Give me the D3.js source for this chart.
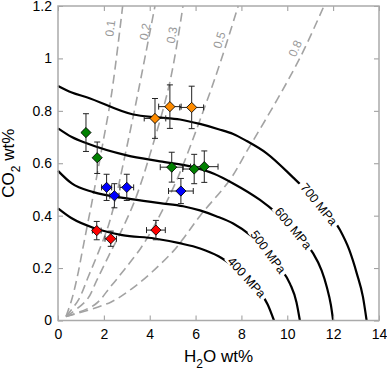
<!DOCTYPE html>
<html lang="en">
<head>
    <meta charset="UTF-8" />
    <title>H2O - CO2 saturation</title>
    <script src="https://d3js.org/d3.v7.min.js"></script>
    <style>
        body { margin: 0; background: #fff; }
        svg { display: block; font-family: 'Liberation Sans', Arial, sans-serif; }
        .tick text { font-size: 14px; fill: #000; }
        .tick line { stroke: #999; }
        .domain { display: none; }
    </style>
</head>
<body>
    <script>
        // tick values
        const xTicks = [0, 2, 4, 6, 8, 10, 12, 14];
        const yTicks = [0, 0.2, 0.4, 0.6, 0.8, 1, 1.2];

        // isobars (H2O wt%, CO2 wt%)
        const isobarNames = ['400 MPa', '500 MPa', '600 MPa', '700 MPa'];
        const isobar400 = [[0, 0.428], [0.6, 0.39], [1.6, 0.352], [2.8, 0.326], [4.2, 0.313], [5.3, 0.295], [6.2, 0.275], [7.0, 0.245], [7.6, 0.21], [8.23, 0.165], [8.8, 0.11], [9.15, 0.06], [9.42, 0]];
        const isobar500 = [[0, 0.571], [0.6, 0.523], [1.54, 0.49], [3.0, 0.466], [4.45, 0.448], [5.46, 0.436], [6.19, 0.42], [6.9, 0.398], [7.64, 0.37], [8.4, 0.325], [9.17, 0.262], [9.7, 0.2], [10.12, 0.14], [10.4, 0.07], [10.55, 0]];
        const isobar600 = [[0, 0.733], [0.6, 0.7], [1.25, 0.676], [3.0, 0.63], [4.45, 0.607], [5.9, 0.585], [6.8, 0.56], [7.64, 0.523], [8.81, 0.46], [9.6, 0.405], [10.26, 0.352], [10.8, 0.295], [11.13, 0.256], [11.5, 0.19], [11.72, 0.129], [11.9, 0.06], [12.0, 0]];
        const isobar700 = [[0, 0.895], [0.6, 0.87], [1.25, 0.852], [3.28, 0.786], [4.3, 0.775], [5.32, 0.767], [6.19, 0.75], [7.0, 0.73], [7.64, 0.712], [8.23, 0.685], [9.1, 0.638], [10.26, 0.545], [10.9, 0.49], [11.38, 0.444], [12.3, 0.345], [12.7, 0.27], [13.03, 0.18], [13.3, 0.09], [13.46, 0]];
        const isobarLabelX = [8.23, 9.17, 10.26, 11.38];

        // fluid XH2O isopleths
        const isoplethNames = ['0.1', '0.2', '0.3', '0.5', '0.8'];
        const pleth01 = [[0.35, 0.015], [0.6, 0.08], [0.85, 0.17], [1.05, 0.26], [1.25, 0.35], [1.47, 0.447], [1.9, 0.65], [2.34, 0.867], [2.82, 1.2]];
        const pleth02 = [[0.35, 0.015], [0.9, 0.08], [1.32, 0.167], [1.76, 0.26], [2.19, 0.36], [2.5, 0.46], [2.85, 0.6], [3.4, 0.83], [4.23, 1.2]];
        const pleth03 = [[0.35, 0.015], [1.25, 0.078], [1.7, 0.155], [2.2, 0.245], [2.78, 0.345], [3.36, 0.46], [4.0, 0.63], [4.88, 0.91], [5.45, 1.2]];
        const pleth05 = [[0.35, 0.015], [1.6, 0.06], [2.3, 0.13], [2.9, 0.195], [3.6, 0.275], [4.25, 0.37], [5.2, 0.54], [6.34, 0.8], [7.1, 0.99], [7.86, 1.2]];
        const pleth08 = [[0.35, 0.015], [2.3, 0.07], [3.2, 0.12], [4.1, 0.185], [5.0, 0.262], [5.4, 0.305], [6.2, 0.4], [7.5, 0.537], [8.23, 0.645], [9.54, 0.84], [10.6, 1.01], [11.6, 1.2]];
        const isoplethLabelPos = [[2.27, 1.115], [3.79, 1.102], [4.96, 1.089], [7.03, 1.07], [10.34, 1.038]];

        // samples: H2O, CO2 and their errors
        const orangeH2O = [4.23, 4.88, 5.83];
        const orangeCO2 = [0.771, 0.816, 0.813];
        const orangeH2OErr = [0.47, 0.49, 0.52];
        const orangeCO2Err = [0.076, 0.083, 0.081];

        const greenH2O = [1.22, 1.71, 4.96, 5.94, 6.38];
        const greenCO2 = [0.717, 0.621, 0.585, 0.578, 0.587];
        const greenH2OErr = [0.08, 0.08, 0.5, 0.5, 0.6];
        const greenCO2Err = [0.072, 0.06, 0.057, 0.056, 0.06];

        const blueH2O = [2.12, 2.46, 3.0, 5.36];
        const blueCO2 = [0.508, 0.476, 0.508, 0.494];
        const blueH2OErr = [0.22, 0.2, 0.3, 0.54];
        const blueCO2Err = [0.05, 0.046, 0.05, 0.048];

        const redH2O = [1.69, 2.3, 4.27];
        const redCO2 = [0.343, 0.312, 0.345];
        const redH2OErr = [0.19, 0.25, 0.41];
        const redCO2Err = [0.035, 0.029, 0.037];

        const width = 387, height = 371;
        const margin = { top: 6, right: 8, bottom: 50.5, left: 58 };

        const svg = d3.select('body').append('svg').attr('width', width).attr('height', height);

        const x = d3.scaleLinear().domain([0, 14]).range([margin.left, width - margin.right]);
        const y = d3.scaleLinear().domain([0, 1.2]).range([height - margin.bottom, margin.top]);

        const line = d3.line().x(d => x(d[0])).y(d => y(d[1]));

        // dashed isopleths
        const pleths = [pleth01, pleth02, pleth03, pleth05, pleth08];
        svg.append('g').selectAll('path')
            .data(pleths)
            .enter()
            .append('path')
            .attr('d', line.curve(d3.curveCatmullRom))
            .attr('fill', 'none')
            .attr('stroke', '#a3a3a3')
            .attr('stroke-width', 1.6)
            .attr('stroke-dasharray', '9,5');

        svg.append('g').selectAll('text')
            .data(isoplethNames)
            .enter()
            .append('text')
            .attr('transform', (d, i) => {
                const p = pleths[i];
                const a = p[p.length - 2], b = p[p.length - 1];
                const ang = Math.atan2(y(b[1]) - y(a[1]), x(b[0]) - x(a[0])) * 180 / Math.PI;
                const pos = isoplethLabelPos[i];
                return `translate(${x(pos[0])},${y(pos[1])}) rotate(${ang})`;
            })
            .attr('text-anchor', 'middle')
            .attr('dy', '0.35em')
            .attr('font-size', 12)
            .attr('fill', '#999')
            .text(d => d);

        // isobars
        const isobars = [isobar400, isobar500, isobar600, isobar700];
        svg.append('g').selectAll('path')
            .data(isobars)
            .enter()
            .append('path')
            .attr('d', line.curve(d3.curveMonotoneX))
            .attr('fill', 'none')
            .attr('stroke', '#000')
            .attr('stroke-width', 2.2);

        // inline labels on the isobars, turned along the segment that follows the label
        isobars.forEach((pts, i) => {
            const lx = isobarLabelX[i];
            let k = 0;
            while (k < pts.length - 2 && pts[k + 1][0] <= lx) k++;
            const a = pts[k], b = pts[k + 1];
            const t = (lx - a[0]) / (b[0] - a[0]);
            const ly = a[1] + t * (b[1] - a[1]);
            const ang = Math.atan2(y(b[1]) - y(a[1]), x(b[0]) - x(a[0])) * 180 / Math.PI;
            const g = svg.append('g').attr('transform', `translate(${x(lx)},${y(ly)}) rotate(${ang})`);
            const rect = g.append('rect').attr('fill', '#fff');
            const txt = g.append('text')
                .attr('text-anchor', 'middle')
                .attr('dy', '0.35em')
                .attr('font-size', 12.5)
                .text(isobarNames[i]);
            const w = txt.node().getComputedTextLength();
            rect.attr('x', -w / 2 - 3).attr('y', -5).attr('width', w + 6).attr('height', 10);
        });

        // samples
        const groups = [
            { color: '#ff8c00', h: orangeH2O, c: orangeCO2, he: orangeH2OErr, ce: orangeCO2Err },
            { color: '#008000', h: greenH2O, c: greenCO2, he: greenH2OErr, ce: greenCO2Err },
            { color: '#0000ff', h: blueH2O, c: blueCO2, he: blueH2OErr, ce: blueCO2Err },
            { color: '#ff0000', h: redH2O, c: redCO2, he: redH2OErr, ce: redCO2Err }
        ];
        const samples = [];
        groups.forEach(g => g.h.forEach((v, i) => samples.push({ h: v, c: g.c[i], he: g.he[i], ce: g.ce[i], color: g.color })));

        const cap = 3;
        const err = svg.append('g').attr('stroke', '#222').attr('stroke-width', 1).attr('fill', 'none');
        err.selectAll('path')
            .data(samples)
            .enter()
            .append('path')
            .attr('d', d => {
                const cx = x(d.h), cy = y(d.c);
                const x0 = x(d.h - d.he), x1 = x(d.h + d.he);
                const y0 = y(d.c - d.ce), y1 = y(d.c + d.ce);
                return `M${cx},${y0}V${y1}M${cx - cap},${y0}H${cx + cap}M${cx - cap},${y1}H${cx + cap}` +
                    `M${x0},${cy}H${x1}M${x0},${cy - cap}V${cy + cap}M${x1},${cy - cap}V${cy + cap}`;
            });

        svg.append('g').selectAll('path')
            .data(samples)
            .enter()
            .append('path')
            .attr('d', d3.symbol(d3.symbolSquare, 52))
            .attr('transform', d => `translate(${x(d.h)},${y(d.c)}) rotate(45)`)
            .attr('fill', d => d.color)
            .attr('stroke', '#000')
            .attr('stroke-width', 0.8);

        // axes, ticks pointing inward
        const fmt = d => String(+d.toFixed(1));
        svg.append('g')
            .attr('transform', `translate(0,${y(0)})`)
            .call(d3.axisBottom(x).tickValues(xTicks).tickSize(-5).tickPadding(9).tickFormat(fmt));
        svg.append('g')
            .attr('transform', `translate(0,${y(1.2)})`)
            .call(d3.axisTop(x).tickValues(xTicks).tickSize(-5).tickFormat(''));
        svg.append('g')
            .attr('transform', `translate(${x(0)},0)`)
            .call(d3.axisLeft(y).tickValues(yTicks).tickSize(-5).tickPadding(6).tickFormat(fmt));
        svg.append('g')
            .attr('transform', `translate(${x(14)},0)`)
            .call(d3.axisRight(y).tickValues(yTicks).tickSize(-5).tickFormat(''));

        svg.append('rect')
            .attr('x', x(0)).attr('y', y(1.2))
            .attr('width', x(14) - x(0)).attr('height', y(0) - y(1.2))
            .attr('fill', 'none')
            .attr('stroke', '#aaa')
            .attr('stroke-width', 1.5);

        // axis titles
        const xt = svg.append('text')
            .attr('x', (x(0) + x(14)) / 2)
            .attr('y', 362)
            .attr('text-anchor', 'middle')
            .attr('font-size', 17);
        xt.append('tspan').text('H');
        xt.append('tspan').attr('font-size', 12).attr('dy', 6).text('2');
        xt.append('tspan').attr('dy', -6).text('O wt%');

        const yt = svg.append('text')
            .attr('transform', `translate(14,${(y(0) + y(1.2)) / 2}) rotate(-90)`)
            .attr('text-anchor', 'middle')
            .attr('font-size', 17);
        yt.append('tspan').text('CO');
        yt.append('tspan').attr('font-size', 12).attr('dy', 6).text('2');
        yt.append('tspan').attr('dy', -6).text(' wt%');
    </script>
</body>
</html>
